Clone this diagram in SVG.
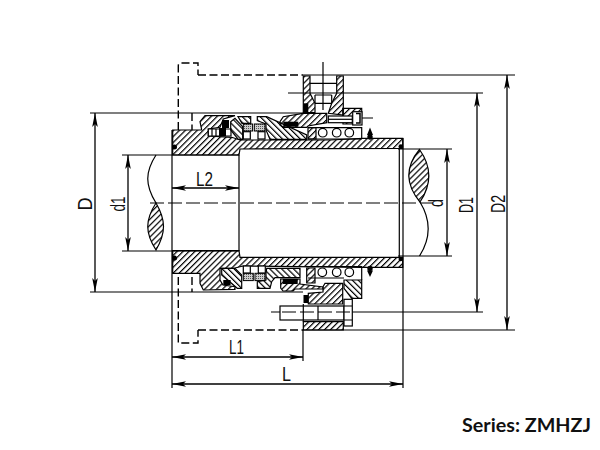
<svg xmlns="http://www.w3.org/2000/svg" width="600" height="450" viewBox="0 0 600 450">
<style>
.o{stroke:#000;stroke-width:1.2;fill:none}
.t{stroke:#000;stroke-width:1.5;fill:none}
.f{fill:url(#hf);stroke:#000;stroke-width:1.2}
.b{fill:url(#hb);stroke:#000;stroke-width:1.2}
.k{fill:#000;stroke:none}
.w{fill:#fff;stroke:#000;stroke-width:1.2}
.g{fill:url(#st);stroke:#000;stroke-width:1}
.da{stroke:#000;stroke-width:1.4;fill:none;stroke-dasharray:8 3.5}
.cl{stroke:#000;stroke-width:1.1;fill:none;stroke-dasharray:14 4}
.dim{stroke:#000;stroke-width:1.3;fill:none;marker-start:url(#as);marker-end:url(#ae)}
.lab{font-family:"Liberation Sans",Arial,sans-serif;font-size:20px;fill:#111}
.ser{font-family:Lato,"Open Sans",sans-serif;font-size:18px;font-weight:700;fill:#111}
</style>
<defs>
<pattern id="hf" width="4.2" height="4.2" patternUnits="userSpaceOnUse" patternTransform="rotate(45)"><rect width="1.2" height="4.2" fill="#000"/></pattern>
<pattern id="hb" width="4.2" height="4.2" patternUnits="userSpaceOnUse" patternTransform="rotate(-45)"><rect width="1.2" height="4.2" fill="#000"/></pattern>
<pattern id="st" width="2" height="2" patternUnits="userSpaceOnUse"><rect width="2" height="2" fill="#ccc"/><rect width="1" height="1" fill="#555"/></pattern>
<marker id="ae" markerUnits="userSpaceOnUse" markerWidth="14" markerHeight="8" refX="14" refY="4" orient="auto"><path d="M0,1.2L14,4L0,6.8L3,4Z" fill="#000"/></marker>
<marker id="as" markerUnits="userSpaceOnUse" markerWidth="14" markerHeight="8" refX="0" refY="4" orient="auto"><path d="M14,1.2L0,4L14,6.8L11,4Z" fill="#000"/></marker>
</defs>
<rect width="600" height="450" fill="#fff"/>

<g id="extension-lines">
<path class="o" d="M90,113H303M90,292H303M122,155H239M122,251H239M288,93H483M271,312H280M352,312H483M303,75H515M303,330H515M398,149H452M398,256H452M172,130V388M403,138V388M303,330V361M373,118H350"/>
<path class="cl" d="M150,203H433"/>
<path class="o" d="M323,62V110"/>
</g>

<g id="flange-dashed">
<path class="da" d="M198,75H303M198,330H303M178.3,130V66Q178.3,63 181,63H198V75M178.3,277V343H198V330"/>
<path class="da" d="M192,113V130M192,277V292"/>
</g>

<g id="shaft-lenses">
<path class="o" d="M156,155C145,172 145,185 156,203"/>
<path class="f" d="M156,203C145,220 145,233 156,250C166,233 166,220 156,203Z"/>
<path class="f" d="M419.5,149.5C405,167 405,184 420,202C432,184 432,167 419.5,149.5Z"/>
<path class="o" d="M420,202C431,220 431,238 419.5,256"/>
</g>

<g id="sleeve">
<path class="f" d="M172.7,130H201.7L200,121.7L205,115.7H235L223.3,119L220,127.3L208.3,129V136L231.7,137.3L240,140H330L363,138.3H402.7V148.3L240,149L239,155H172.7Z"/>
<path class="f" d="M172.7,250.7H239L240,257.3H402.7V267.3H361.7L243,266L235,268L220,268.3V280L223,285L235,286.7V289.3L203.3,290L200,283.3V273.3H172.7Z"/>
<path class="o" d="M239,155V251M399.3,149V257"/>
<circle class="k" cx="174.5" cy="147" r="2.5"/><circle class="k" cx="174.5" cy="258" r="2.5"/>
<circle class="k" cx="400.8" cy="146.5" r="2.3"/><circle class="k" cx="400.8" cy="259" r="2.3"/>
</g>

<g id="seal-upper">
<path class="w" d="M208.3,129H231V136H208.3Z"/>
<path class="o" d="M212,129V136M216,129V136M220,129V136"/>
<rect class="k" x="222" y="120" width="7" height="8"/><rect class="k" x="219" y="128" width="7" height="8"/>
<path class="b" d="M230.7,121.7L235,118.3L242.7,126.7V139.3H238.3L230.7,130Z"/>
<path class="b" d="M238,116.7H250.7V123.3H242Z"/>
<rect class="g" x="243.3" y="124" width="9.3" height="7"/><rect class="g" x="254.3" y="124" width="10.7" height="7"/>
<rect class="w" x="243.3" y="131.7" width="7" height="7.3"/><rect class="w" x="258" y="131.7" width="7" height="7.3"/>
<path class="b" d="M257.3,116.7H266.7L306.7,135V139.3H270L266,130V124L257.3,120.7Z"/>
<path class="f" d="M280,121.7L283.3,116.7L303,113.3H326.7V122.7L308,126L306.7,127.3H283.3L280,125Z"/>
<rect class="k" x="283.3" y="121.7" width="15" height="5"/>
<path class="f" d="M303.3,76H310V93.3L315,103.3V112.7H303.3Z"/>
<path class="f" d="M336.7,76H343.3V115L328.3,113.3L331.7,103.3L336.7,93.3Z"/>
<rect class="k" x="303.3" y="103.3" width="5" height="9.3"/>
<path class="o" d="M310,83.3H336.7M315,95H331.7M315,103.3H331.7M315,95V103M331.7,95V103"/>
<path class="f" d="M342.7,108.3H361.7V116H352.7V124H343Z"/>
<rect class="w" x="328.3" y="116" width="24" height="6.7"/>
<path class="o" d="M328,119.3H352"/>
<rect class="w" x="352.7" y="111.7" width="9.3" height="13.3"/>
<path class="t" d="M356,113.5H360V123H356"/>
<path class="o" d="M308,127.7H361.7V139M308,139H361.7"/>
<path class="f" d="M308,127.7H316V139H308Z"/>
<circle class="w" cx="322.7" cy="132.7" r="4.3"/><circle class="w" cx="336.7" cy="132.7" r="4.3"/><circle class="w" cx="349.3" cy="132.7" r="4.3"/>
<circle class="k" cx="370" cy="137" r="2.7"/><path class="k" d="M367,135L370,127.5L373,135Z"/>
</g>

<g id="seal-lower">
<path class="b" d="M221.7,268.3H235L241.7,275V288.3H237.3L221.7,275Z"/>
<rect class="k" x="223.3" y="280" width="7.3" height="5"/>
<rect class="g" x="243.3" y="273.3" width="10" height="7.3"/><rect class="g" x="255" y="273.3" width="10" height="7.3"/>
<rect class="w" x="243.3" y="266" width="7" height="7"/><rect class="w" x="258.3" y="266" width="7" height="7"/>
<path class="b" d="M266.7,268.3H300V277.7H275L271.7,281.7L270,288.3H257.3V281.7L266,280V273.3Z"/>
<path class="f" d="M280.7,279H300V284L323,287V289L295,289L293,291H283L280.7,288Z"/>
<rect class="k" x="282.7" y="279" width="15" height="5"/>
<path class="f" d="M323,286.7L325,283.3H342.7V304H308.3V293.3L323,292Z"/>
<path class="b" d="M344,280H361.7V298.3H351.7L344,288.3Z"/>
<rect class="k" x="303.5" y="295" width="4.5" height="8"/>
<path class="o" d="M306,266.5H361.7V280M308,278H344"/>
<path class="f" d="M306.7,268H315V283H306.7Z"/>
<circle class="w" cx="322.3" cy="272.3" r="4.3"/><circle class="w" cx="336.7" cy="272.3" r="4.3"/><circle class="w" cx="349.3" cy="272.3" r="4.3"/>
<circle class="k" cx="370" cy="268.5" r="2.7"/><path class="k" d="M367,270.5L370,277L373,270.5Z"/>
<rect class="w" x="280" y="306" width="64" height="14"/>
<path class="o" d="M303.3,304V321.7M318,306V320"/>
<rect class="w" x="344" y="299.3" width="8.3" height="26.7"/>
<path class="o" d="M344,306H352M344,320H352"/>
<path class="f" d="M303.3,321.7H343.3V330H303.3Z"/>
<path class="cl" d="M282,312H352"/>
</g>

<g id="dimensions">
<path class="dim" d="M95,113V292"/>
<path class="dim" d="M128,155V251"/>
<path class="dim" d="M172,188H239"/>
<path class="dim" d="M447,149V256"/>
<path class="dim" d="M477,93V312"/>
<path class="dim" d="M507,75V330"/>
<path class="dim" d="M172,357H303"/>
<path class="dim" d="M172,384H403"/>
</g>

<g id="labels">
<text class="lab" x="196" y="186" textLength="17" lengthAdjust="spacingAndGlyphs">L2</text>
<text class="lab" x="229" y="354" textLength="15" lengthAdjust="spacingAndGlyphs">L1</text>
<text class="lab" x="282" y="381" textLength="9" lengthAdjust="spacingAndGlyphs">L</text>
<text class="lab" transform="translate(92,204) rotate(-90)" text-anchor="middle" textLength="13" lengthAdjust="spacingAndGlyphs">D</text>
<text class="lab" transform="translate(125,204) rotate(-90)" text-anchor="middle" textLength="15" lengthAdjust="spacingAndGlyphs">d1</text>
<text class="lab" transform="translate(443,203) rotate(-90)" text-anchor="middle" textLength="8" lengthAdjust="spacingAndGlyphs">d</text>
<text class="lab" transform="translate(473,205) rotate(-90)" text-anchor="middle" textLength="16" lengthAdjust="spacingAndGlyphs">D1</text>
<text class="lab" transform="translate(505,204) rotate(-90)" text-anchor="middle" textLength="18" lengthAdjust="spacingAndGlyphs">D2</text>
<text class="ser" x="462" y="432" textLength="129" lengthAdjust="spacingAndGlyphs">Series: ZMHZJ</text>
</g>
</svg>
